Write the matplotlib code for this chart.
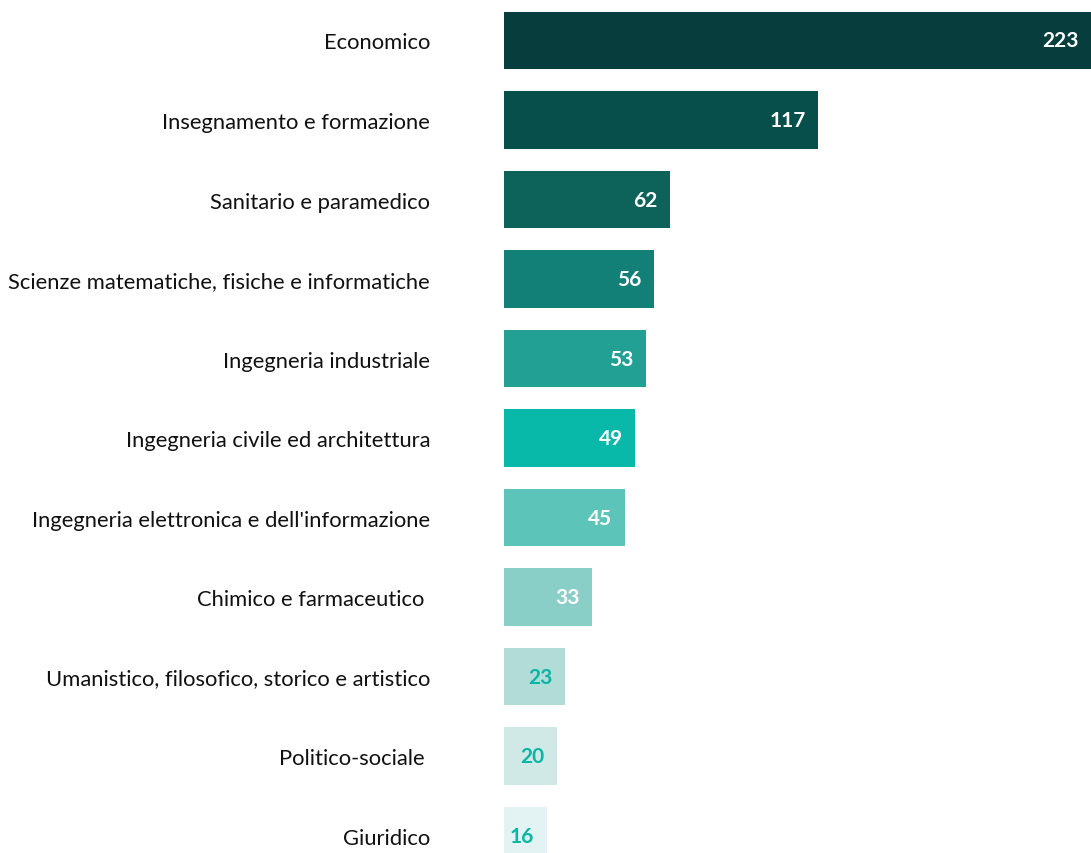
import matplotlib.pyplot as plt

# categories and counts, top to bottom
categories = [
    "Economico",
    "Insegnamento e formazione",
    "Sanitario e paramedico",
    "Scienze matematiche, fisiche e informatiche",
    "Ingegneria industriale",
    "Ingegneria civile ed architettura",
    "Ingegneria elettronica e dell'informazione",
    "Chimico e farmaceutico ",
    "Umanistico, filosofico, storico e artistico",
    "Politico-sociale ",
    "Giuridico",
]
counts = [223, 117, 62, 56, 53, 49, 45, 33, 23, 20, 16]

bar_colors = ["#083d3e", "#064f4a", "#0d635a", "#128077", "#23a094", "#08b8a9",
              "#5cc4b8", "#8acfc7", "#b1dcd8", "#d0e9e6", "#e3f3f3"]
value_colors = ["white"] * 8 + ["#0ab5a5"] * 3

plt.rcParams['font.family'] = ['Lato', 'DejaVu Sans']

fig = plt.figure(figsize=(10.91, 8.54), dpi=100)
# axes starts where the bars start, runs to the right edge (first bar is cut off)
ax = fig.add_axes([503.5 / 1091, 0, 587.5 / 1091, 1])

ypos = list(range(len(categories)))
ax.barh(ypos, counts, height=0.72, color=bar_colors)

xmax = 587.5 / 2.69
ax.set_xlim(0, xmax)
ax.set_ylim(10.22, -0.522)

for y, v, c in zip(ypos, counts, value_colors):
    ax.annotate(str(v), xy=(min(v, xmax), y), xytext=(-9, 0), textcoords='offset points',
                ha='right', va='center', color=c, fontsize=15, fontweight='bold')

ax.set_yticks(ypos)
ax.set_yticklabels(categories, fontsize=15.8, color='#111111')
ax.tick_params(axis='y', length=0, pad=52.8)
ax.set_xticks([])
for s in ax.spines.values():
    s.set_visible(False)

fig.savefig("out.png", dpi=100)
